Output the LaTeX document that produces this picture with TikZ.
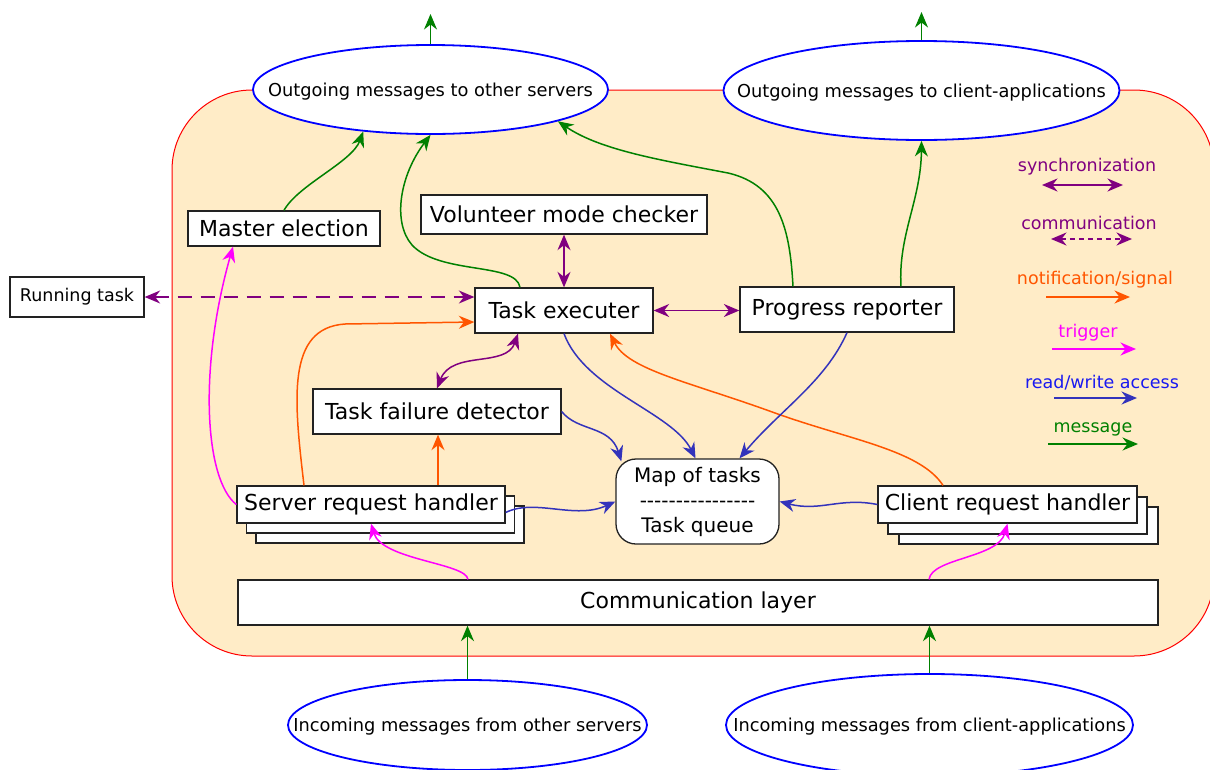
\documentclass[tikz,border=0pt]{standalone}
\usepackage{fontspec}
\setmainfont{DejaVu Sans}
\usetikzlibrary{arrows.meta,shapes.geometric}

\definecolor{panelfill}{RGB}{255,236,199}
\definecolor{msgcol}{RGB}{0,128,0}
\definecolor{synccol}{RGB}{128,0,128}
\definecolor{notifcol}{RGB}{255,85,0}
\definecolor{trigcol}{RGB}{255,0,255}
\definecolor{rwcol}{RGB}{51,51,187}
\definecolor{rwtext}{RGB}{25,25,240}
\definecolor{ellcol}{RGB}{0,0,255}
\definecolor{boxline}{RGB}{34,34,34}

\newcommand\hyphenrow{-\kern0pt-\kern0pt-\kern0pt-\kern0pt-\kern0pt-\kern0pt-\kern0pt-\kern0pt-\kern0pt-\kern0pt-\kern0pt-\kern0pt-\kern0pt-\kern0pt-\kern0pt-}

\begin{document}
\begin{tikzpicture}[x=1pt,y=-1pt,
  >={Stealth[length=15.5pt,width=13pt,inset=5pt]},
  box/.style={draw=boxline, line width=1.3pt, fill=white, inner sep=0pt,
    font=\fontsize{22}{26}\selectfont},
  smallbox/.style={box, font=\fontsize{17.5}{21}\selectfont},
  ell/.style={ellipse, draw=ellcol, line width=1.8pt, fill=white, inner sep=0pt,
    label={[font=\fontsize{17.8}{21}\selectfont, inner sep=0pt, yshift=-2pt]center:#1}},
  legend/.style={inner sep=0pt, font=\fontsize{17.5}{21}\selectfont},
  conn/.style={line width=1.5pt},
  msgline/.style={conn, draw=msgcol, ->},
  syncline/.style={conn, draw=synccol, <->},
  commline/.style={conn, draw=synccol, <->, dash pattern=on 14pt off 9pt},
  notifline/.style={conn, draw=notifcol, ->},
  trigline/.style={conn, draw=trigcol, ->},
  rwline/.style={conn, draw=rwcol, ->}]

\useasboundingbox (0,0) rectangle (1210,769);

% server panel
\path[draw=red, line width=1pt, fill=panelfill, rounded corners=80pt]
  (172,90) rectangle (1214,656);

% message sources and sinks
\node[ell={Outgoing messages to other servers}, minimum width=355pt, minimum height=89pt]
  (out1) at (430.5,89.5) {};
\node[ell={Outgoing messages to client-applications}, minimum width=396pt, minimum height=99pt]
  (out2) at (921.5,90.5) {};
\node[ell={Incoming messages from other servers}, minimum width=359pt, minimum height=90pt]
  (in1) at (467.5,725) {};
\node[ell={Incoming messages from client-applications}, minimum width=407pt, minimum height=102pt]
  (in2) at (929.5,725) {};

\coordinate (out1up) at (430.5,14);
\coordinate (out2up) at (921.5,12);

% components
\node[box, minimum width=192pt, minimum height=35pt] (master) at (284,228.5) {Master election};
\node[box, minimum width=286pt, minimum height=39pt] (volunteer) at (564,214.5) {Volunteer mode checker};
\node[box, minimum width=178pt, minimum height=45pt] (exec) at (564,310.5) {Task executer};
\node[box, minimum width=214pt, minimum height=45pt] (progress) at (847,309.5) {Progress reporter};
\node[smallbox, minimum width=134pt, minimum height=40pt] (running) at (77,297) {Running task};
\node[box, minimum width=248pt, minimum height=45pt] (failure) at (437,411.5) {Task failure detector};

\node[box, minimum width=268pt, minimum height=37pt] (serverC) at (390,524.5) {};
\node[box, minimum width=268pt, minimum height=37pt] (serverB) at (380.5,514.5) {};
\node[box, minimum width=268pt, minimum height=37pt] (server) at (371,504.5) {Server request handler};

\node[box, minimum width=259pt, minimum height=37pt] (clientC) at (1028.5,525.5) {};
\node[box, minimum width=259pt, minimum height=37pt] (clientB) at (1017.5,515.5) {};
\node[box, minimum width=259pt, minimum height=37pt] (client) at (1007.5,504.5) {Client request handler};

\node[box, rounded corners=20pt, minimum width=163pt, minimum height=85pt, align=center,
  font=\fontsize{20}{25}\selectfont] (map) at (697.5,501.5)
  {Map of tasks\\\hyphenrow\\Task queue};

\node[box, minimum width=920pt, minimum height=45pt] (comm) at (698,602.5) {Communication layer};

% messages
\draw[msgline] (out1.north) -- (out1up);
\draw[msgline] (out2.north) -- (out2up);
\draw[msgline] (in1.north) -- (in1.north |- comm.south);
\draw[msgline] (in2.north) -- (in2.north |- comm.south);
\draw[msgline] (master.north) .. controls (298,185) and (352,162) .. (out1.212);
\draw[msgline] ([xshift=-44pt]exec.north) .. controls (516,262) and (440,275) .. (412,245)
  .. controls (392,222) and (400,175) .. (out1.south);
\draw[msgline] ([xshift=-54pt]progress.north) .. controls (790,230) and (780,185) .. (728,173)
  .. controls (660,160) and (600,150) .. (out1.-14);
\draw[msgline] ([xshift=54pt]progress.north) .. controls (898,235) and (921,200) .. (out2.south);

% synchronization and communication
\draw[syncline] (volunteer.south) -- (exec.north);
\draw[syncline] (exec.east) -- (exec.east -| progress.west);
\draw[commline] (running.east) -- (running.east -| exec.west);
\draw[syncline] ([xshift=-46pt]exec.south) .. controls (506,368) and (452,350) .. (failure.north);

% notifications
\draw[notifline] ([xshift=-67pt]server.north) .. controls (294,400) and (286,328) .. (345,324)
  -- ([yshift=-11.5pt]exec.west);
\draw[notifline] ([xshift=67pt]server.north) -- ([xshift=67pt]server.north |- failure.south);
\draw[notifline] ([xshift=-64.5pt]client.north) .. controls (920,450) and (850,440) .. (775,413)
  .. controls (690,382) and (628,370) .. ([xshift=46pt]exec.south);

% triggers
\draw[trigline] (server.west) .. controls (205,480) and (198,370) .. ([xshift=-51pt]master.south);
\draw[trigline] ([xshift=-230pt]comm.north) .. controls (466,563) and (382,560) .. (server.south);
\draw[trigline] ([xshift=231pt]comm.north) .. controls (932,558) and (998,558) .. (client.south);

% read/write access
\draw[rwline] (exec.south) .. controls (585,390) and (672,412) .. ([xshift=-2pt]map.north);
\draw[rwline] (progress.south) .. controls (825,382) and (780,410) .. ([xshift=42pt]map.north);
\draw[rwline] (failure.east) .. controls (578,432) and (610,425) .. ([xshift=6pt,yshift=-3pt]map.north west);
\draw[rwline] ([yshift=-8pt]server.east) .. controls (535,498) and (575,520) .. (map.west);
\draw[rwline] (client.west) .. controls (840,497) and (820,512) .. (map.east);

% legend
\node[legend, text=synccol] (lgsync) at (1087,167) {synchronization};
\coordinate (lgsyncA) at (1042,185);
\coordinate (lgsyncB) at (1123,185);
\draw[syncline] (lgsyncA) -- (lgsyncB);

\node[legend, text=synccol] (lgcomm) at (1089,223) {communication};
\coordinate (lgcommA) at (1051,239);
\coordinate (lgcommB) at (1132,239);
\draw[commline, dash pattern=on 5pt off 4pt] (lgcommA) -- (lgcommB);

\node[legend, text=notifcol] (lgnotif) at (1095,280) {notification/signal};
\coordinate (lgnotifA) at (1046,297);
\coordinate (lgnotifB) at (1130,297);
\draw[notifline] (lgnotifA) -- (lgnotifB);

\node[legend, text=trigcol] (lgtrig) at (1088,333) {trigger};
\coordinate (lgtrigA) at (1052,349);
\coordinate (lgtrigB) at (1136,349);
\draw[trigline] (lgtrigA) -- (lgtrigB);

\node[legend, text=rwtext] (lgrw) at (1102,383) {read/write access};
\coordinate (lgrwA) at (1054,398);
\coordinate (lgrwB) at (1137,398);
\draw[rwline] (lgrwA) -- (lgrwB);

\node[legend, text=msgcol] (lgmsg) at (1093,429) {message};
\coordinate (lgmsgA) at (1048,444);
\coordinate (lgmsgB) at (1138,444);
\draw[msgline] (lgmsgA) -- (lgmsgB);

\end{tikzpicture}
\end{document}
